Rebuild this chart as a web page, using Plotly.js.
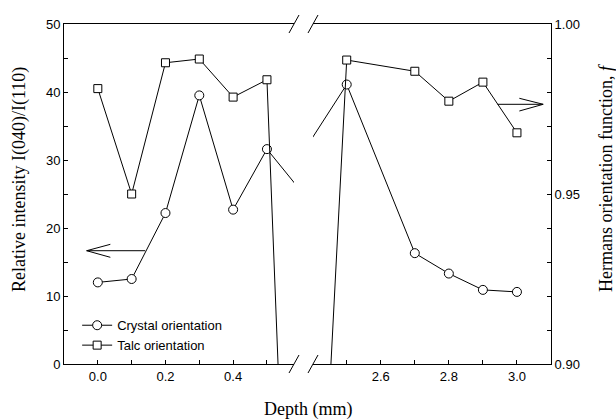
<!DOCTYPE html>
<html>
<head>
<meta charset="utf-8">
<script src="https://cdn.plot.ly/plotly-3.0.1.min.js"></script>
<style>html,body{margin:0;padding:0;background:#fff;}#chart{width:616px;height:419px;}</style>
</head>
<body>
<div id="chart"></div>
<script>
// ---- data ----
const depthLeft = [0.0, 0.1, 0.2, 0.3, 0.4, 0.5];
const depthRight = [2.5, 2.7, 2.8, 2.9, 3.0];
const crystalLeft = [12.0, 12.5, 22.2, 39.5, 22.7, 31.6];
const crystalRight = [41.1, 16.3, 13.3, 10.9, 10.6];
const talcLeft = [0.981, 0.950, 0.9886, 0.9897, 0.9785, 0.9836];
const talcRight = [0.9894, 0.9861, 0.9773, 0.9829, 0.968];
// the lines run on into the axis break toward a hidden point
const gapDepthCrystal = [1.55];
const crystalGap = [-32.7];
const gapDepthTalc = [1.36];
const talcGap = [-1.21];

const xRangeLeft = [-0.1, 0.58];
const xRangeRight = [2.401, 3.1];
const yRangeLeft = [0, 50];
const yRangeRight = [0.90, 1.00];

// ---- layout geometry ----
const W = 616, H = 419;
const M = {l: 64, r: 65, t: 24, b: 55};
const plotW = W - M.l - M.r, plotH = H - M.t - M.b;
const leftEndPx = 294, rightStartPx = 313; // px within figure
const dL = (leftEndPx - M.l) / plotW;
const dR = (rightStartPx - M.l) / plotW;
const px2x = function (px) { return (px - M.l) / plotW; };
const py2y = function (py) { return (H - M.b - py) / plotH; };

const lineStyle = {color: '#000', width: 1};
const circ = {symbol: 'circle', size: 9, color: '#fff', line: {color: '#000', width: 1}};
const sq = {symbol: 'square', size: 8, color: '#fff', line: {color: '#000', width: 1}};

const traces = [
  {x: depthLeft.concat(gapDepthCrystal), y: crystalLeft.concat(crystalGap), xaxis: 'x', yaxis: 'y',
   mode: 'lines+markers', line: lineStyle, marker: circ, name: 'Crystal orientation', legendgroup: 'c'},
  {x: depthLeft.concat(gapDepthTalc), y: talcLeft.concat(talcGap), xaxis: 'x', yaxis: 'y2',
   mode: 'lines+markers', line: lineStyle, marker: sq, name: 'Talc orientation', legendgroup: 't'},
  {x: gapDepthCrystal.concat(depthRight), y: crystalGap.concat(crystalRight), xaxis: 'x2', yaxis: 'y',
   mode: 'lines+markers', line: lineStyle, marker: circ, name: 'Crystal orientation', legendgroup: 'c', showlegend: false},
  {x: gapDepthTalc.concat(depthRight), y: talcGap.concat(talcRight), xaxis: 'x2', yaxis: 'y2',
   mode: 'lines+markers', line: lineStyle, marker: sq, name: 'Talc orientation', legendgroup: 't', showlegend: false}
];

const tickFont = {family: 'Liberation Sans, Arial, sans-serif', size: 13, color: '#000'};
const titleFont = {family: 'Liberation Serif, Times New Roman, serif', size: 18, color: '#000'};

const axisCommon = {
  showgrid: false, zeroline: false, showline: true, linecolor: '#000', linewidth: 1,
  ticks: 'inside', ticklen: 4, tickcolor: '#000', tickwidth: 1, tickfont: tickFont
};

// break marks (paper coords)
const hx = 5 / plotW, hy = 9 / plotH;
const shapes = [];
[dL, dR].forEach(function (d) {
  [1, 0].forEach(function (yy) {
    shapes.push({type: 'line', xref: 'paper', yref: 'paper', x0: d - hx, y0: yy - hy, x1: d + hx, y1: yy + hy,
      line: {color: '#000', width: 1}});
  });
});
// arrows pointing to the relevant axis
shapes.push({type: 'path', xref: 'x', yref: 'y',
  path: 'M0.140,16.66 L-0.033,16.66 M0.037,17.60 L-0.033,16.66 L0.037,15.69',
  line: {color: '#000', width: 1}});
shapes.push({type: 'path', xref: 'x2', yref: 'y2',
  path: 'M2.943,0.97638 L3.077,0.97638 M3.007,0.97815 L3.077,0.97638 L3.007,0.97441',
  line: {color: '#000', width: 1}});

const layout = {
  width: W, height: H, margin: M, paper_bgcolor: '#fff', plot_bgcolor: 'rgba(0,0,0,0)',
  showlegend: true,
  legend: {x: 0.027, y: 0.158, xanchor: 'left', yanchor: 'top', bgcolor: 'rgba(0,0,0,0)',
    font: {family: 'Liberation Sans, Arial, sans-serif', size: 13, color: '#000'}, tracegroupgap: 0},
  xaxis: Object.assign({}, axisCommon, {domain: [0, dL], range: xRangeLeft, anchor: 'y', mirror: true,
    tick0: 0, dtick: 0.2, tickformat: '.1f', minor: {dtick: 0.1, tick0: 0, ticks: 'inside', ticklen: 4, tickcolor: '#000'}}),
  xaxis2: Object.assign({}, axisCommon, {domain: [dR, 1], range: xRangeRight, anchor: 'y', mirror: true,
    tick0: 2.6, dtick: 0.2, tickformat: '.1f', minor: {dtick: 0.1, tick0: 2.5, ticks: 'inside', ticklen: 4, tickcolor: '#000'}}),
  yaxis: Object.assign({}, axisCommon, {range: yRangeLeft, anchor: 'x', side: 'left', dtick: 10,
    minor: {dtick: 5, ticks: 'inside', ticklen: 4, tickcolor: '#000'}}),
  yaxis2: Object.assign({}, axisCommon, {range: yRangeRight, anchor: 'x2', side: 'right', overlaying: 'y',
    dtick: 0.05, tickformat: '.2f', minor: {dtick: 0.01, ticks: 'inside', ticklen: 4, tickcolor: '#000'}}),
  annotations: [
    {text: 'Depth (mm)', xref: 'paper', yref: 'paper', x: 0.5, y: py2y(409),
     xanchor: 'center', yanchor: 'middle', showarrow: false, font: titleFont},
    {text: 'Relative intensity I(040)/I(110)', xref: 'paper', yref: 'paper', x: px2x(19), y: py2y(180),
     xanchor: 'center', yanchor: 'middle', textangle: -90, showarrow: false, font: titleFont},
    {text: 'Hermans orientation function, <i>f</i>', xref: 'paper', yref: 'paper', x: px2x(606), y: py2y(178),
     xanchor: 'center', yanchor: 'middle', textangle: -90, showarrow: false, font: titleFont}
  ],
  shapes: shapes
};

Plotly.newPlot('chart', traces, layout, {staticPlot: true});
</script>
</body>
</html>
